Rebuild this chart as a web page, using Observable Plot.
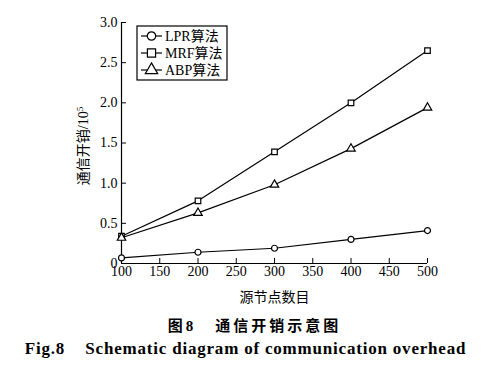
<!DOCTYPE html>
<html>
<head>
<meta charset="utf-8">
<script src="https://cdn.jsdelivr.net/npm/d3@7"></script>
<script src="https://cdn.jsdelivr.net/npm/@observablehq/plot@0.6"></script>
<style>
  body { margin: 0; background: #fff; width: 491px; }
  #chart svg text { font-family: "Liberation Serif", serif; }
  #cap1 { font-family: "Noto Sans CJK SC", sans-serif; font-weight: bold; font-size: 15px; text-align: center; margin-top: 4px; padding-left: 18px; letter-spacing: 3px; }
  #cap2 { font-family: "Liberation Serif", serif; font-weight: bold; font-size: 17px; text-align: center; margin-top: 4px; letter-spacing: 0.8px; }
</style>
</head>
<body>
<div id="chart"></div>
<div id="cap1">图<span style="font-family:'Liberation Serif',serif">8</span>&nbsp;&nbsp;&nbsp;通信开销示意图</div>
<div id="cap2">Fig.8&nbsp;&nbsp;&nbsp;&nbsp;Schematic diagram of communication overhead</div>
<script>
const nodes = [100, 200, 300, 400, 500];
const lpr = [0.07, 0.14, 0.19, 0.30, 0.41];
const mrf = [0.34, 0.78, 1.39, 2.00, 2.65];
const abp = [0.32, 0.63, 0.98, 1.43, 1.94];
const seriesNames = ["LPR算法", "MRF算法", "ABP算法"];
const seriesSymbols = ["circle", "square", "triangle"];
const xTicks = [100, 150, 200, 250, 300, 350, 400, 450, 500];
const yTicks = [0, 0.5, 1.0, 1.5, 2.0, 2.5, 3.0];
const xTitle = "源节点数目";
const yTitle = ["通信开销", "/10", "5"];

const seriesValues = [lpr, mrf, abp];
const data = seriesValues.flatMap((vals, i) =>
  vals.map((v, j) => ({x: nodes[j], y: v, s: seriesNames[i]})));

const serif = "'Liberation Serif', serif";
const cjk = "'Noto Sans CJK SC', sans-serif";
const plot = Plot.plot({
  width: 491,
  height: 310,
  marginLeft: 121,
  marginRight: 64,
  marginTop: 22,
  marginBottom: 47,
  style: {fontSize: "14px", color: "#000", background: "#fff"},
  x: {domain: [100, 500], ticks: xTicks, label: null},
  y: {domain: [0, 3], ticks: yTicks, label: null},
  symbol: {domain: seriesNames, range: seriesSymbols},
  marks: [
    Plot.axisX({ticks: xTicks, tickSize: -5, tickPadding: 8, tickFormat: d => String(d), fontSize: 14}),
    Plot.axisY({ticks: yTicks, tickSize: -5, tickPadding: 9, tickFormat: d => d === 0 ? "0" : d.toFixed(1), fontSize: 14}),
    Plot.ruleY([0], {stroke: "#000", strokeWidth: 1.2}),
    Plot.ruleX([100], {stroke: "#000", strokeWidth: 1.2}),
    Plot.line(data, {x: "x", y: "y", z: "s", stroke: "#000", strokeWidth: 1.2}),
    Plot.dot(data, {x: "x", y: "y", symbol: "s", r: d => d.s === seriesNames[0] ? 4.2 : 4.6, stroke: "#000", strokeWidth: 1.2, fill: "#fff"}),
    Plot.text([xTitle], {frameAnchor: "bottom", dy: 38, fontSize: 14}),
    Plot.text([yTitle.join("")], {frameAnchor: "left", textAnchor: "middle", dx: -38, dy: 3, rotate: -90, fontSize: 14})
  ]
});

const svg = d3.select(plot);
// axis titles: CJK font for Chinese, serif for numbers
const titles = svg.selectAll('g[aria-label="text"] text');
titles.each(function() {
  const el = d3.select(this);
  const txt = el.text();
  if (txt === xTitle) {
    el.style("font-family", cjk);
  } else {
    el.text(null);
    el.append("tspan").style("font-family", cjk).text(yTitle[0]);
    el.append("tspan").style("font-family", serif).text(yTitle[1]);
    el.append("tspan").style("font-family", serif).attr("font-size", 9).attr("dy", "-0.5em").text(yTitle[2]);
  }
});

// Legend drawn into the SVG
const lg = svg.append("g").attr("transform", "translate(137,26)").attr("text-anchor", "start");
lg.append("rect").attr("width", 90).attr("height", 54).attr("fill", "#fff").attr("stroke", "#000").attr("stroke-width", 1.2);
seriesNames.forEach((name, i) => {
  const y = 10 + i * 17;
  lg.append("line").attr("x1", 4).attr("x2", 25).attr("y1", y).attr("y2", y).attr("stroke", "#000").attr("stroke-width", 1.2);
  const sym = d3.symbol().type(i === 0 ? d3.symbolCircle : i === 1 ? d3.symbolSquare : d3.symbolTriangle)
    .size(Math.PI * (i === 0 ? 4.2 : 4.6) ** 2);
  lg.append("path").attr("d", sym()).attr("transform", `translate(14.5,${y})`).attr("fill", "#fff").attr("stroke", "#000").attr("stroke-width", 1.2);
  const t = lg.append("text").attr("x", 28).attr("y", y).attr("dy", "0.35em").attr("font-size", 14).attr("text-anchor", "start");
  t.append("tspan").style("font-family", serif).text(name.slice(0, 3));
  t.append("tspan").style("font-family", cjk).text(name.slice(3));
});

document.getElementById("chart").appendChild(plot);
</script>
</body>
</html>
